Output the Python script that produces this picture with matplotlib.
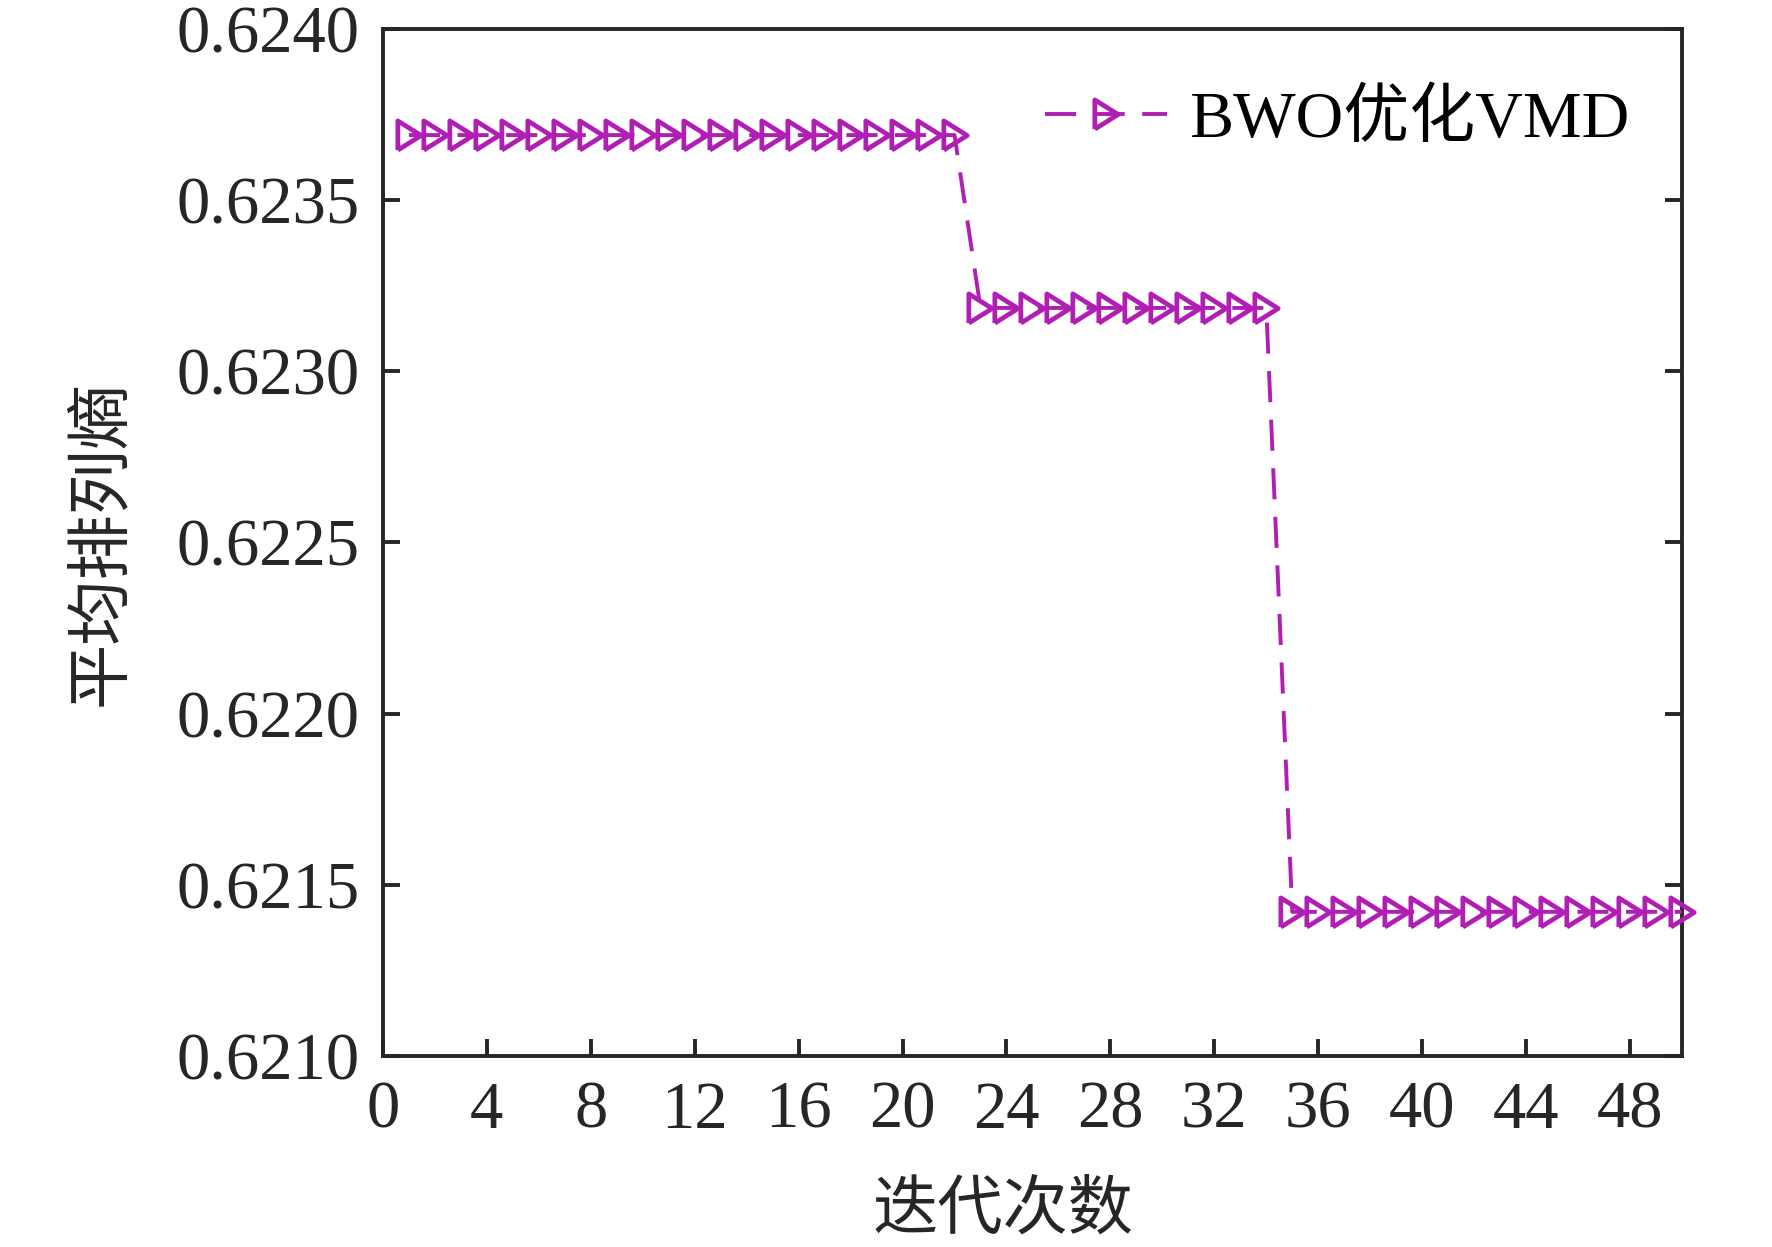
import matplotlib
matplotlib.use("Agg")
import matplotlib.pyplot as plt
import numpy as np

# iteration numbers and mean permutation entropy
iterations = list(range(1, 51))
entropy = [0.62369] * 22 + [0.623185] * 12 + [0.621421] * 16

x_ticks = list(range(0, 49, 4))
y_ticks = [0.6210, 0.6215, 0.6220, 0.6225, 0.6230, 0.6235, 0.6240]

series_label = "BWO优化VMD"
x_label = "迭代次数"
y_label = "平均排列熵"

line_color = "#b01eb4"
axis_color = "#262626"
mixed_font = ["Liberation Serif", "Noto Sans CJK SC"]
cjk_font = ["Noto Sans CJK SC", "DejaVu Sans"]

plt.rcParams["font.family"] = mixed_font
plt.rcParams["axes.linewidth"] = 2.8

fig = plt.figure(figsize=(17.72, 12.47), dpi=100)
ax = fig.add_axes([0.2161, 0.1532, 0.7331, 0.8236])

# narrow right-pointing triangle like the MATLAB '>' marker
tri = [(-0.4, -0.5), (0.4, 0.0), (-0.4, 0.5), (-0.4, -0.5)]

ax.plot(iterations, entropy, color=line_color, lw=2.8, dashes=(8, 4.5),
        marker=tri, markersize=21, markerfacecolor="none",
        markeredgecolor=line_color, markeredgewidth=3.4,
        clip_on=False, label=series_label, zorder=3)

ax.set_xlim(0, 50)
ax.set_ylim(0.6210, 0.6240)
ax.set_xticks(x_ticks)
ax.set_yticks(y_ticks)
ax.set_yticklabels([f"{v:.4f}" for v in y_ticks])

for side in ["left", "right", "top", "bottom"]:
    ax.spines[side].set_color(axis_color)

ax.tick_params(axis="both", direction="in", length=12.5, width=2.8,
               colors=axis_color, labelsize=48)
ax.tick_params(axis="y", right=True, pad=17)
ax.tick_params(axis="x", top=False, pad=18)

ax.set_xlabel(x_label, fontsize=47, family=cjk_font, color=axis_color,
              va="center")
ax.xaxis.set_label_coords(0.477, -0.15)
ax.set_ylabel(y_label, fontsize=47, family=cjk_font, color=axis_color,
              va="center")
ax.yaxis.set_label_coords(-0.217, 0.5)

leg = ax.legend(loc="center left", bbox_to_anchor=(0.5096, 0.9104),
                frameon=False, fontsize=47.5, handlelength=1.85,
                handletextpad=0.33, borderpad=0, borderaxespad=0)
for t in leg.get_texts():
    t.set_color("black")

fig.savefig("out.png", dpi=100, facecolor="white")
